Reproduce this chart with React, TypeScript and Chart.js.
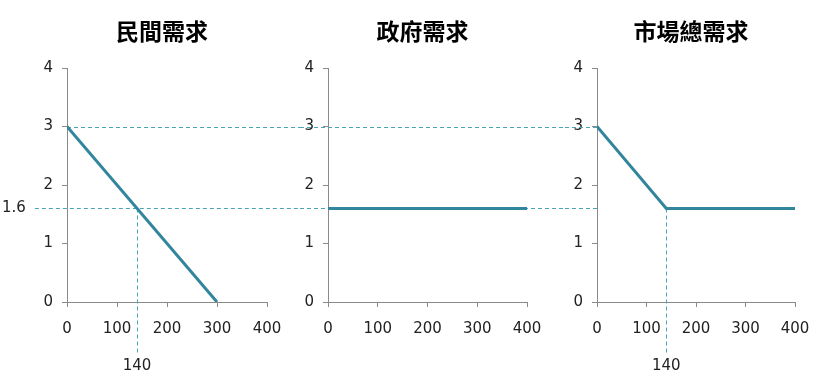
import React, { useEffect, useRef } from "react";
import { Chart, registerables } from "chart.js";

Chart.register(...registerables);

// ---- data ----
const titles = ["民間需求", "政府需求", "市場總需求"];
const privateQty = [0, 300];
const privatePrice = [3, 0];
const govQty = [0, 400];
const govPrice = [1.6, 1.6];
const marketQty = [0, 140, 400];
const marketPrice = [3, 1.6, 1.6];
const xTickValues = [0, 100, 200, 300, 400];
const yTickValues = [0, 1, 2, 3, 4];
const refPrices = [3, 1.6];
const refQty = 140;
const refPriceLabel = "1.6";
const refQtyLabel = "140";

// ---- styles ----
const LINE_COLOR = "#31859c";
const DASH_COLOR = "#4ba3b8";
const AXIS_COLOR = "#8a8a8a";
const TEXT_COLOR = "#222222";
const TICK_FAMILY = '"DejaVu Sans", Verdana, sans-serif';
const TITLE_FONT = 'bold 23px "Noto Sans CJK TC", "Noto Sans CJK SC", sans-serif';
const H = 377;

type Panel = {
  title: string;
  xs: number[];
  ys: number[];
  left: number;
  width: number;
  padLeft: number;
  padRight: number;
};

const panels: Panel[] = [
  { title: titles[0], xs: privateQty, ys: privatePrice, left: 0, width: 300, padLeft: 39, padRight: 33 },
  { title: titles[1], xs: govQty, ys: govPrice, left: 300, width: 265, padLeft: 0, padRight: 38 },
  { title: titles[2], xs: marketQty, ys: marketPrice, left: 565, width: 255, padLeft: 4, padRight: 25 },
];

function overlayPlugin(idx: number) {
  return {
    id: "overlay" + idx,
    beforeDatasetsDraw(chart: any) {
      const { ctx, chartArea, scales } = chart;
      const xs = scales.x;
      const ys = scales.y;
      const W = chart.width;
      const crisp = (v: number) => Math.round(v) + 0.5;
      const y3 = crisp(ys.getPixelForValue(refPrices[0]));
      const y16 = crisp(ys.getPixelForValue(refPrices[1]));
      ctx.save();
      ctx.strokeStyle = DASH_COLOR;
      ctx.lineWidth = 1;
      ctx.setLineDash([4, 3]);
      const hline = (yy: number, x0: number, x1: number) => {
        ctx.beginPath();
        ctx.moveTo(x0, yy);
        ctx.lineTo(x1, yy);
        ctx.stroke();
      };
      const vline = (xx: number, y0: number, y1: number) => {
        ctx.beginPath();
        ctx.moveTo(xx, y0);
        ctx.lineTo(xx, y1);
        ctx.stroke();
      };
      ctx.font = "15px " + TICK_FAMILY;
      if (idx === 0) {
        hline(y3, chartArea.left, W);
        const lw = ctx.measureText(refPriceLabel).width;
        hline(y16, 3 + lw + 8, W);
        vline(crisp(xs.getPixelForValue(refQty)), y16, chartArea.bottom + 52);
      } else if (idx === 1) {
        hline(y3, 0, W);
        hline(y16, 0, W);
      } else {
        hline(y3, 0, chartArea.left);
        hline(y16, 0, chartArea.left);
        vline(crisp(xs.getPixelForValue(refQty)), y16, chartArea.bottom + 52);
      }
      ctx.setLineDash([]);
      ctx.fillStyle = TEXT_COLOR;
      if (idx === 0) {
        ctx.textAlign = "left";
        ctx.textBaseline = "middle";
        ctx.fillText(refPriceLabel, 2, y16);
      }
      if (idx === 0 || idx === 2) {
        ctx.textAlign = "center";
        ctx.textBaseline = "middle";
        ctx.fillText(refQtyLabel, xs.getPixelForValue(refQty), chartArea.bottom + 64);
      }
      ctx.restore();
    },
    afterDraw(chart: any) {
      const { ctx, chartArea } = chart;
      ctx.save();
      ctx.font = TITLE_FONT;
      ctx.fillStyle = "#000";
      ctx.textAlign = "center";
      ctx.textBaseline = "middle";
      ctx.fillText(panels[idx].title, (chartArea.left + chartArea.right) / 2 - 5, 31);
      ctx.restore();
    },
  };
}

export default function App() {
  const refs = [useRef<HTMLCanvasElement>(null), useRef<HTMLCanvasElement>(null), useRef<HTMLCanvasElement>(null)];

  useEffect(() => {
    const charts = panels.map((p, idx) => {
      const canvas = refs[idx].current!;
      return new Chart(canvas, {
        type: "line",
        data: {
          datasets: [
            {
              data: p.xs.map((x, i) => ({ x, y: p.ys[i] })),
              borderColor: LINE_COLOR,
              borderWidth: 3,
              pointRadius: 0,
              tension: 0,
              fill: false,
            },
          ],
        },
        options: {
          responsive: false,
          animation: false,
          events: [],
          layout: { padding: { top: 68, bottom: 35, left: p.padLeft, right: p.padRight } },
          plugins: { legend: { display: false }, tooltip: { enabled: false }, title: { display: false } },
          scales: {
            x: {
              type: "linear",
              min: 0,
              max: 400,
              afterBuildTicks: (s: any) => {
                s.ticks = xTickValues.map((v) => ({ value: v }));
              },
              afterFit: (s: any) => {
                s.height = 40;
              },
              grid: { display: true, drawOnChartArea: false, drawTicks: true, tickLength: 5, color: AXIS_COLOR },
              border: { display: true, color: AXIS_COLOR, width: 1 },
              ticks: {
                color: TEXT_COLOR,
                font: { family: TICK_FAMILY, size: 15, lineHeight: 2.4 },
                padding: 4,
                maxRotation: 0,
                autoSkip: false,
              },
            },
            y: {
              type: "linear",
              min: 0,
              max: 4,
              afterBuildTicks: (s: any) => {
                s.ticks = yTickValues.map((v) => ({ value: v }));
              },
              afterFit: (s: any) => {
                s.width = 28;
              },
              grid: { display: true, drawOnChartArea: false, drawTicks: true, tickLength: 5, color: AXIS_COLOR },
              border: { display: true, color: AXIS_COLOR, width: 1 },
              ticks: { color: TEXT_COLOR, font: { family: TICK_FAMILY, size: 15 }, padding: 9 },
            },
          },
        },
        plugins: [overlayPlugin(idx)],
      });
    });
    return () => charts.forEach((c) => c.destroy());
  }, []);

  return (
    <div style={{ position: "absolute", left: 0, top: 0, width: 820, height: H, background: "#fff" }}>
      {panels.map((p, idx) => (
        <canvas
          key={idx}
          ref={refs[idx]}
          width={p.width}
          height={H}
          style={{ position: "absolute", left: p.left, top: 0, width: p.width, height: H }}
        />
      ))}
    </div>
  );
}
